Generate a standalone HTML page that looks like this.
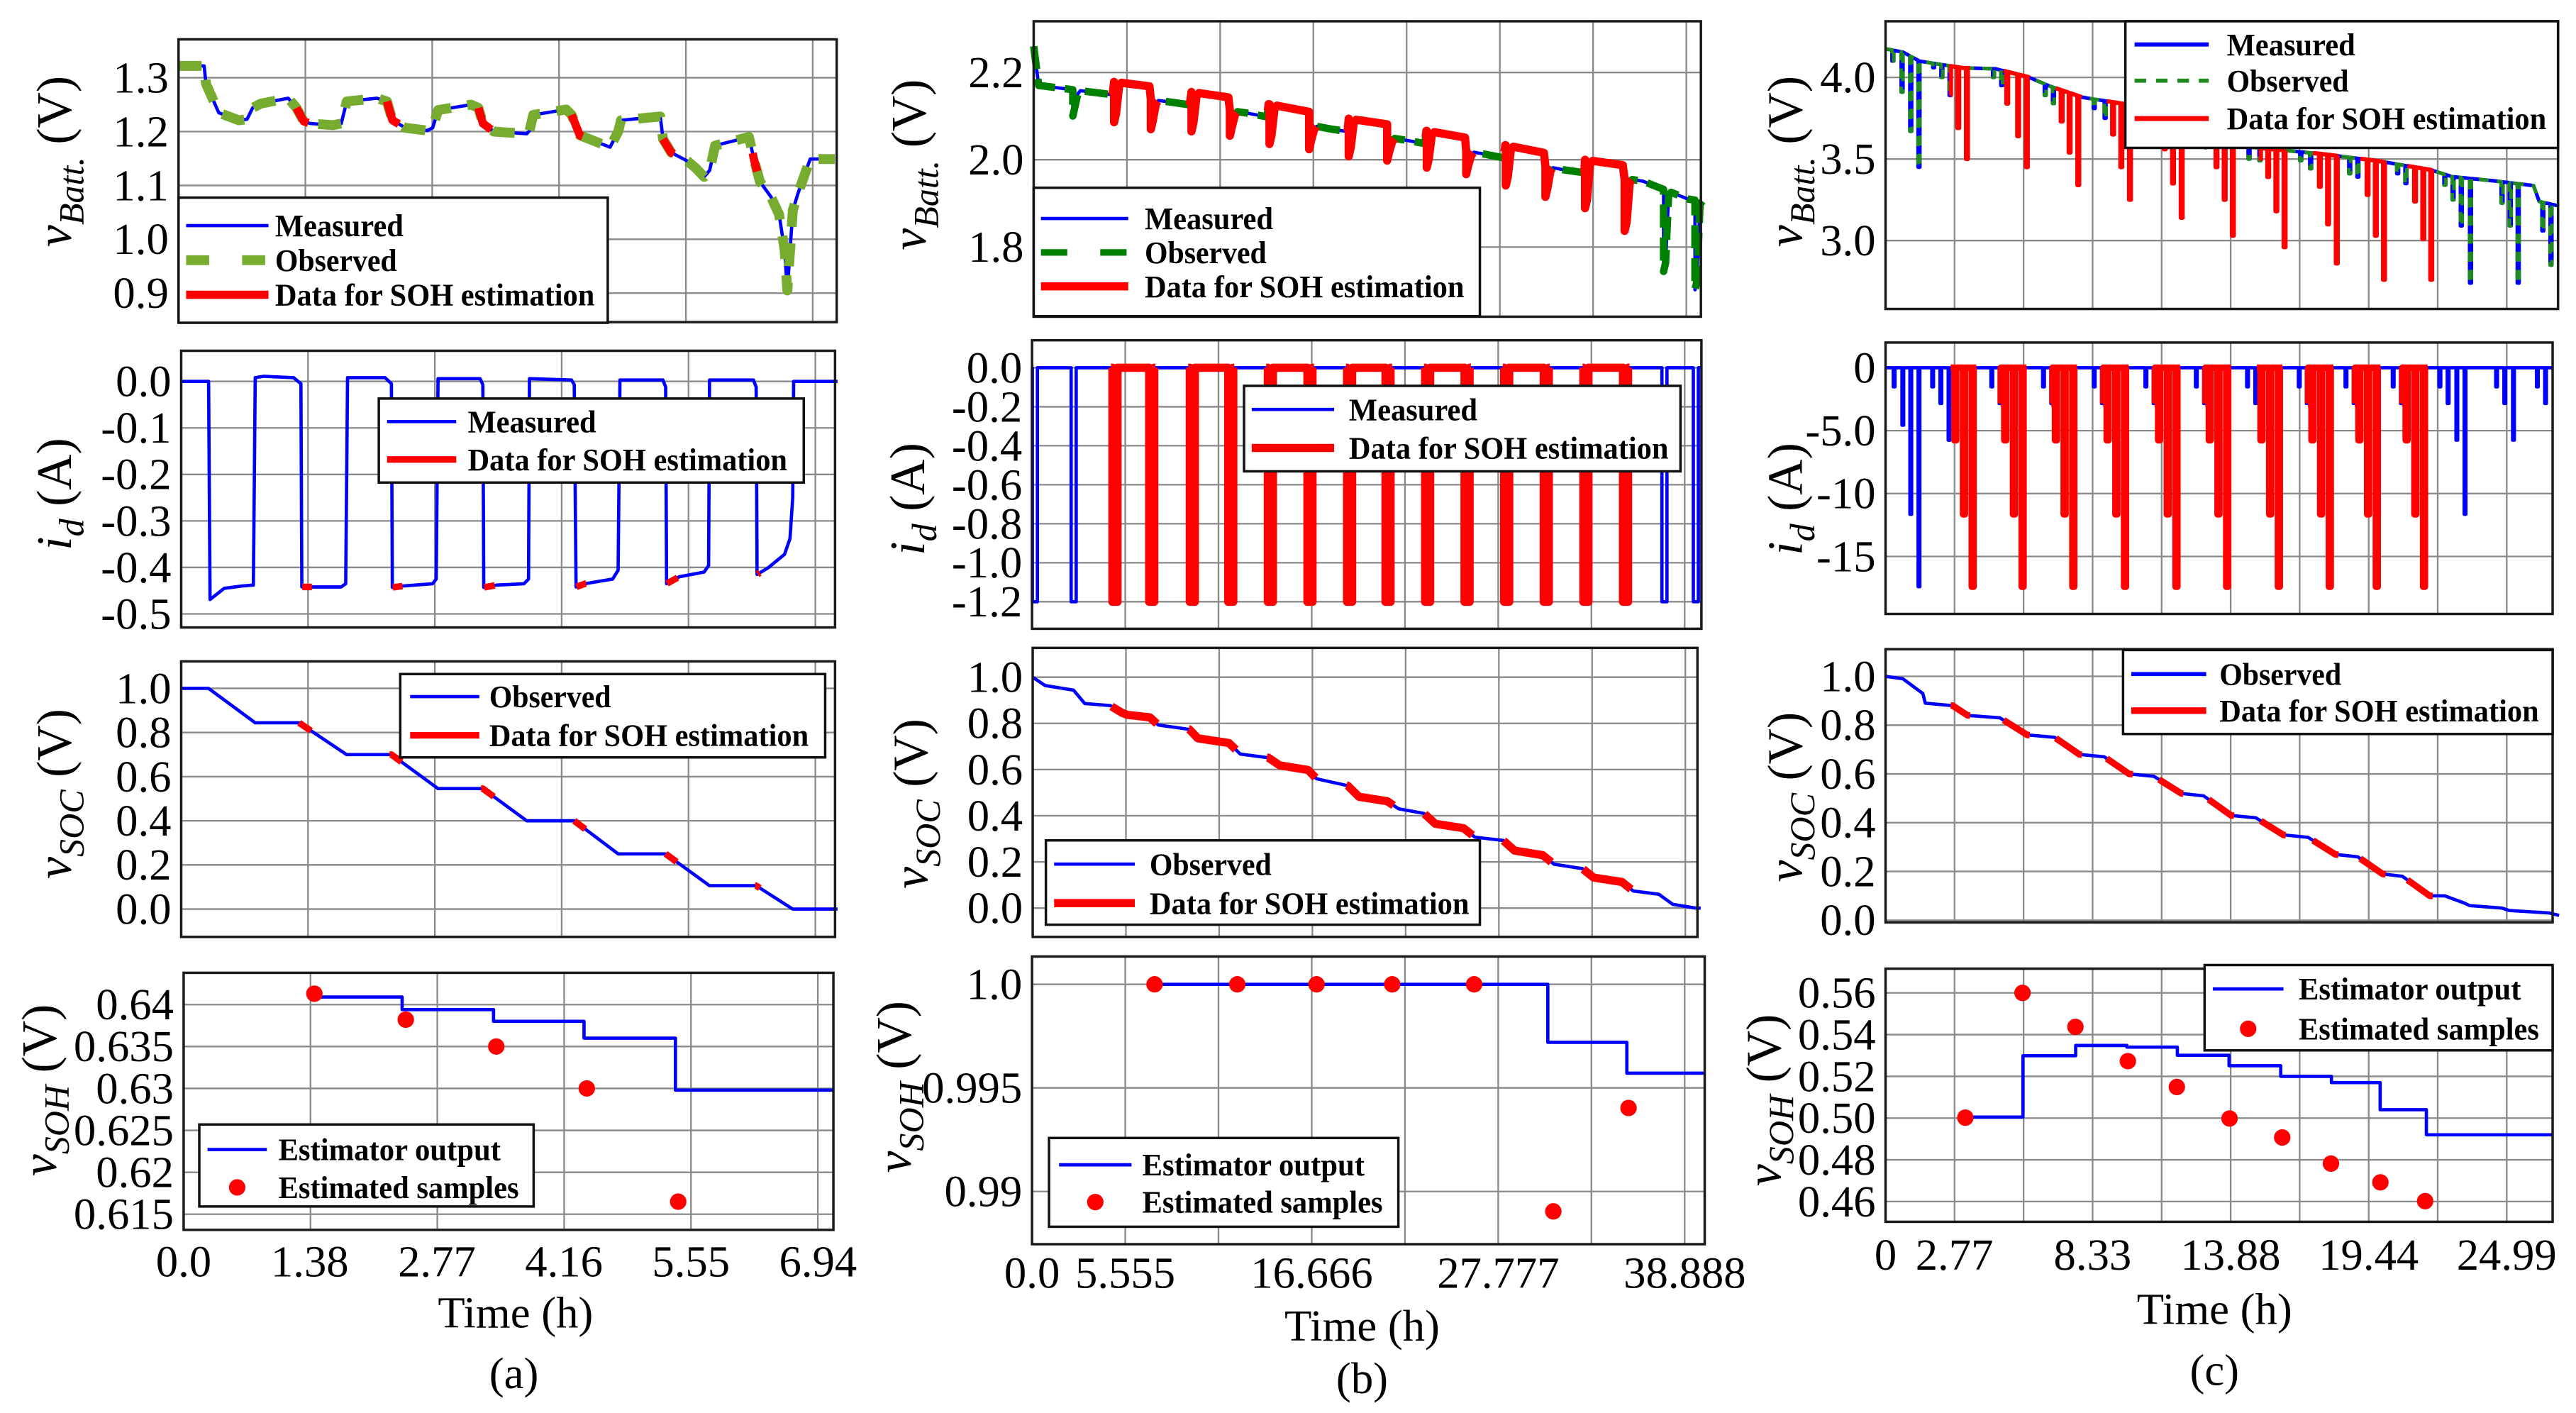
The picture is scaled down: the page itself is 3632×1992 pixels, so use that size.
<!DOCTYPE html>
<html><head><meta charset="utf-8"><style>
html,body{margin:0;padding:0;background:#fff;}
svg{display:block;}
text{font-family:"Liberation Serif","DejaVu Serif",serif;}
</style></head><body>
<svg id="fig" xmlns="http://www.w3.org/2000/svg" width="3632" height="1992" viewBox="0 0 1564 858" preserveAspectRatio="none">
<rect x="0" y="0" width="1564" height="858" fill="#fff"/>
</svg>
<script>
// ---------- Column (a) data ----------
const aVT=[0,0.28,0.30,0.44,0.66,0.75,0.81,0.90,1.20,1.29,1.37,1.44,1.69,1.78,1.84,2.17,2.28,2.34,2.48,2.72,2.78,2.84,3.20,3.28,3.33,3.45,3.81,3.84,3.88,4.24,4.30,4.39,4.72,4.81,4.84,5.27,5.30,5.39,5.57,5.66,5.75,5.81,5.87,6.24,6.30,6.36,6.48,6.57,6.63,6.66,6.69,6.72,6.78,6.91,7.18];
const aVV=[1.322,1.322,1.289,1.235,1.221,1.223,1.244,1.252,1.262,1.244,1.219,1.215,1.212,1.215,1.256,1.262,1.256,1.221,1.207,1.202,1.207,1.240,1.250,1.244,1.215,1.200,1.196,1.202,1.231,1.241,1.231,1.193,1.171,1.200,1.221,1.228,1.186,1.161,1.145,1.132,1.116,1.128,1.174,1.190,1.145,1.107,1.079,1.046,0.980,0.905,0.980,1.054,1.087,1.149,1.149];
const aIT=[0,0.30,0.316,0.47,0.66,0.79,0.81,0.90,1.23,1.31,1.32,1.44,1.75,1.80,1.82,2.23,2.30,2.31,2.42,2.75,2.79,2.81,3.27,3.30,3.31,3.45,3.75,3.80,3.81,4.27,4.30,4.32,4.42,4.72,4.78,4.80,5.27,5.30,5.31,5.45,5.72,5.77,5.78,6.26,6.29,6.30,6.42,6.60,6.66,6.69,6.70,7.18];
const aIV=[0,0,-0.469,-0.445,-0.440,-0.438,0.008,0.011,0.008,-0.005,-0.442,-0.442,-0.442,-0.435,0.008,0.008,-0.005,-0.443,-0.440,-0.435,-0.425,0.006,0.006,-0.007,-0.443,-0.438,-0.435,-0.425,0.006,0.003,-0.007,-0.442,-0.435,-0.425,-0.406,0.003,0.003,-0.012,-0.435,-0.420,-0.410,-0.396,0.003,0.003,-0.012,-0.415,-0.401,-0.372,-0.338,-0.25,0,0];
const aST=[0,0.30,0.81,1.29,1.81,2.30,2.81,3.30,3.78,4.30,4.78,5.30,5.78,6.29,6.69,7.18];
const aSV=[1.0,1.0,0.844,0.844,0.70,0.70,0.546,0.546,0.40,0.40,0.25,0.25,0.106,0.106,0.0,0.0];
const redA=[[1.29,1.42],[2.28,2.41],[3.28,3.42],[4.30,4.42],[5.30,5.42],[6.28,6.33]];
const redAI=[[1.325,1.43],[2.315,2.42],[3.315,3.43],[4.325,4.43],[5.315,5.43],[6.305,6.33]];
const aSohT=[1.42,2.39,3.39,4.38,5.38];
const aSohV=[0.6409,0.6394,0.6380,0.6360,0.6298];
const aDotT=[1.43,2.43,3.42,4.41,5.41];
const aDotV=[0.6413,0.6382,0.6350,0.6300,0.6165];
const aXTicks=[0,1.38,2.77,4.16,5.55,6.94];
const aXLabels=["0.0","1.38","2.77","4.16","5.55","6.94"];
// ---------- Column (b) data ----------
const bBaseT=[0,0.3,0.57,7.99,12.7,17.76,22.14,26.85,31.57,36.29,38.98,39.8];
const bBaseV=[2.26,2.17,2.169,2.133,2.107,2.07,2.045,2.013,1.977,1.951,1.91,1.905];
const bPulseT=[2.33,4.79,6.98,9.40,11.69,14.05,16.41,18.77,21.06,23.42,25.77,28.13,30.49,32.85,35.21,37.53,39.4];
const bDipV=[2.10,2.086,2.07,2.065,2.055,2.036,2.024,2.008,1.998,1.982,1.967,1.941,1.915,1.889,1.837,1.744,1.702];
const bRedRise=0.03;
const bCurT=[0.02,2.33,4.79,6.98,9.40,11.69,14.05,16.41,18.77,21.06,23.42,25.77,28.13,30.49,32.85,35.21,37.53,39.4];
const bCurLow=[-1.2,-1.2,-1.2,-1.2,-1.2,-1.2,-1.2,-1.2,-1.2,-1.2,-1.2,-1.2,-1.2,-1.2,-1.2,-1.2,-1.2,-1.2];
const redB=[[4.7,7.4],[9.3,12.1],[13.95,16.85],[18.7,21.5],[23.35,26.2],[28.05,30.9],[32.8,35.65]];
const bST=[0,0.74,2.43,3.10,4.62,5.29,5.63,6.98,7.48,9.33,9.84,11.69,12.37,14.05,14.72,16.41,16.91,18.77,19.44,21.12,21.8,23.31,23.99,25.67,26.35,28.03,28.71,30.39,31.06,32.75,33.42,35.11,35.78,37.3,38.14,39.49,39.8];
const bSV=[1.0,0.964,0.944,0.886,0.877,0.847,0.837,0.826,0.793,0.774,0.735,0.715,0.667,0.651,0.618,0.598,0.560,0.530,0.482,0.463,0.430,0.410,0.365,0.346,0.307,0.293,0.249,0.229,0.190,0.171,0.132,0.113,0.074,0.060,0.016,0.0,0.0];
const bSohT=[7.3,30.73,35.44];
const bSohV=[1.0,0.9972,0.99571];
const bDotT=[7.3,12.23,16.95,21.46,26.34,31.06,35.54];
const bDotV=[1.0,1.0,1.0,1.0,1.0,0.98904,0.99403];
const bXTicks=[0,5.555,16.666,27.777,38.888];
const bXLabels=["0.0","5.555","16.666","27.777","38.888"];
// ---------- Column (c) data ----------
const cBaseT=[0,0.70,1.36,3.1,4.42,5.73,6.6,7.92,9.67,10.98,13.17,14.7,17.54,19.73,21.92,22.79,24.54,26.07,26.3,27.1];
const cBaseV=[4.175,4.155,4.10,4.058,4.053,4.003,3.947,3.878,3.836,3.781,3.67,3.573,3.531,3.49,3.434,3.392,3.365,3.337,3.24,3.212];
const cSpikeT=[0.26,0.63,0.98,1.31,1.90,2.23,2.56,2.89,3.24,4.31,4.64,4.86,5.30,5.65,6.39,6.72,7.05,7.37,7.72,8.36,8.80,9.12,9.45,9.80,10.44,10.77,11.20,11.53,11.88,12.52,12.84,13.28,13.61,13.94,14.59,15.03,15.36,15.69,16.02,16.67,17.07,17.44,17.77,18.12,18.64,18.97,19.36,19.69,20.02,20.57,20.90,21.27,21.60,21.92,22.47,22.80,23.13,23.50,24.77,25.10,25.42,26.41,26.74];
const cSpikeV=[4.10,3.91,3.67,3.45,4.06,4.00,3.89,3.69,3.50,4.00,3.95,3.84,3.64,3.45,3.89,3.84,3.73,3.54,3.34,3.81,3.75,3.65,3.45,3.25,3.71,3.66,3.56,3.35,3.14,3.63,3.57,3.45,3.25,3.03,3.50,3.49,3.39,3.18,2.96,3.49,3.44,3.33,3.10,2.86,3.41,3.39,3.28,3.03,2.76,3.41,3.35,3.24,3.01,2.76,3.34,3.25,3.09,2.74,3.23,3.09,2.74,3.06,2.85];
const redC=[[2.62,3.4],[4.75,5.8],[6.85,7.9],[8.9,9.95],[11.0,11.98],[13.0,14.02],[15.1,16.1],[17.2,18.22],[19.1,20.12],[21.0,22.02]];
const cCurT=[0.31,0.66,0.98,1.31,1.86,2.19,2.52,4.24,4.57,6.32,6.65,8.36,8.69,10.44,10.77,12.47,12.80,14.53,14.86,16.61,16.93,18.49,18.82,20.39,20.72,22.27,22.6,22.95,23.28,24.55,24.88,25.23,26.19,26.52];
const cCurV=[-1.52,-4.57,-11.65,-17.4,-1.52,-2.84,-5.76,-1.52,-2.84,-1.52,-2.84,-1.52,-2.84,-1.52,-2.84,-1.52,-2.84,-1.52,-2.84,-1.52,-2.84,-1.52,-2.84,-1.52,-2.84,-1.52,-2.84,-5.76,-11.65,-1.52,-2.84,-5.76,-1.52,-2.84];
const cGroupT=[2.67,4.68,6.72,8.80,10.87,12.91,14.99,17.04,18.93,20.83];
const cGroupOff=[0.1,0.45,0.8];
const cGroupV=[-5.76,-11.65,-17.4];
const cST=[0,0.7,1.5,1.6,2.7,3.3,4.6,5.7,6.8,7.8,8.8,9.8,10.8,11.9,12.8,13.9,14.9,16.0,17.0,18.1,19.0,20.0,20.8,21.9,22.5,23.3,23.5,24.8,25.1,26.7,27.1];
const cSV=[1.0,0.99,0.93,0.89,0.88,0.84,0.83,0.76,0.75,0.68,0.67,0.60,0.59,0.52,0.51,0.43,0.42,0.35,0.34,0.27,0.26,0.19,0.18,0.10,0.10,0.07,0.06,0.05,0.04,0.03,0.02];
const cSohT=[3.21,5.53,7.65,9.71,11.74,13.82,15.9,17.94,19.9,21.76];
const cSohV=[0.5005,0.5299,0.5348,0.5340,0.5301,0.5251,0.5200,0.5170,0.5040,0.4920];
const cDotT=[3.21,5.51,7.64,9.75,11.72,13.84,15.96,17.92,19.91,21.71];
const cDotV=[0.5002,0.56,0.5437,0.5273,0.5149,0.4998,0.4907,0.4782,0.4692,0.4602];
const cXTicks=[0,2.77,8.33,13.88,19.44,24.99];
const cXLabels=["0","2.77","8.33","13.88","19.44","24.99"];

const NS='http://www.w3.org/2000/svg';
const svg=document.getElementById('fig');
function mk(tag,attrs,parent){const e=document.createElementNS(NS,tag);for(const k in attrs)e.setAttribute(k,attrs[k]);(parent||svg).appendChild(e);return e;}
function zip(T,V){return T.map((t,i)=>[t,V[i]]);}
function interp(T,V,t){if(t<=T[0])return V[0];for(let i=1;i<T.length;i++){if(t<=T[i]){const f=(t-T[i-1])/(T[i]-T[i-1]||1);return V[i-1]+f*(V[i]-V[i-1]);}}return V[V.length-1];}
function clip(pts,t0,t1){const out=[];for(let i=0;i<pts.length;i++){const p=pts[i];if(p[0]>=t0&&p[0]<=t1){if(out.length===0&&i>0&&pts[i-1][0]<t0){const a=pts[i-1],f=(t0-a[0])/(p[0]-a[0]);out.push([t0,a[1]+f*(p[1]-a[1])]);}out.push(p);}else if(p[0]>t1){if(i>0&&pts[i-1][0]<t1){const a=pts[i-1],f=(t1-a[0])/(p[0]-a[0]);if(out.length===0&&a[0]<t0){const g=(t0-a[0])/(p[0]-a[0]);out.push([t0,a[1]+g*(p[1]-a[1])]);}out.push([t1,a[1]+f*(p[1]-a[1])]);}break;}}return out;}
function panel(name,fx0,fx1,fy0,fy1,pxu,v1,p1,v2,p2){const k=(p2-p1)/(v2-v1);return {name,fx0,fx1,fy0,fy1,X:t=>fx0+t*pxu,Y:v=>p1+(v-v1)*k,xmax:(fx1-fx0)/pxu};}
function pathD(P,pts){return 'M'+pts.map(p=>P.X(p[0]).toFixed(2)+','+P.Y(p[1]).toFixed(2)).join('L');}
function gridAndFrame(P,step,yT,yL,g){
  const gg=mk('g',{},g);
  
  
  for(let k=1;k*step<=P.xmax;k++){const x=P.X(k*step);const l=mk('line',{x1:x,x2:x,y1:P.fy0,y2:P.fy1,stroke:'#8a8a8a','stroke-width':1},gg);
    
    }
  yT.forEach((v,i)=>{const y=P.Y(v);const l=mk('line',{x1:P.fx0,x2:P.fx1,y1:y,y2:y,stroke:'#8a8a8a','stroke-width':1},gg);
    
    
    const t=mk('text',{x:P.fx0-6,y:y+9,'font-size':27,'text-anchor':'end',fill:'#000'},g);t.textContent=yL[i];
    
    });
}
function frame(P,g){const r=mk('rect',{x:P.fx0,y:P.fy0,width:P.fx1-P.fx0,height:P.fy1-P.fy0,fill:'none',stroke:'#1a1a1a','stroke-width':1.5},g);
  
  }
function line(P,pts,color,w,dash,nm,g){const p=mk('path',{d:pathD(P,pts),fill:'none',stroke:color,'stroke-width':w,'stroke-linejoin':'round'},g);if(dash)p.setAttribute('stroke-dasharray',dash);
  
  return p;}
function redParts(P,pts,ints,w,g){ints.forEach(iv=>{const s=clip(pts,iv[0],iv[1]);if(s.length>1)line(P,s,'#ff0000',w,null,P.name+'-soh-data-segment',g);});}
function dots(P,T,V,g){T.forEach((t,i)=>{const c=mk('circle',{cx:P.X(t),cy:P.Y(V[i]),r:5,fill:'#ff0000'},g);
  
  });}
function stepPts(T,V,xmax){const o=[];for(let i=0;i<T.length;i++){o.push([T[i],V[i]]);o.push([i+1<T.length?T[i+1]:xmax,V[i]]);}return o;}
function ylabel(x,y,main,sub,unit,fs,nm,g){const t=mk('text',{transform:`translate(${x},${y}) rotate(-90)`,'text-anchor':'middle','font-size':fs},g);
  
  
  const a=mk('tspan',{'font-style':'italic'},t);a.textContent=main;
  const b=mk('tspan',{'font-style':'italic','font-size':fs*0.72,dy:fs*0.25},t);b.textContent=sub;
  const c=mk('tspan',{dy:-fs*0.25},t);c.textContent=' '+unit;}
const LW={"Measured":78,"Observed":74,"Data for SOH estimation":194,"Estimator output":135,"Estimated samples":146};
function legend(nm,x0,x1,y0,y1,sx0,sx1,tx,rows,g){const lg=mk('g',{},g);
  
  
  const r=mk('rect',{x:x0,y:y0,width:x1-x0,height:y1-y0,fill:'#fff',stroke:'#111','stroke-width':1.5},lg);
  
  
  rows.forEach(rw=>{const [label,y,kind,color,w,dash]=rw;
    if(kind==='dot'){const c=mk('circle',{cx:(sx0+sx1)/2,cy:y,r:5,fill:color},lg);
      
      }
    else{const l=mk('line',{x1:sx0,x2:sx1,y1:y,y2:y,stroke:color,'stroke-width':w},lg);if(dash)l.setAttribute('stroke-dasharray',dash);
      
      }
    const t=mk('text',{x:tx,y:y+6.5,'font-size':19,'font-weight':'bold',textLength:LW[label],lengthAdjust:'spacingAndGlyphs'},lg);t.textContent=label;
    
    });}
function xticks(P,T,L,y,g){T.forEach((v,i)=>{const t=mk('text',{x:P.X(v),y:y,'font-size':27,'text-anchor':'middle'},g);t.textContent=L[i];
  
  });}
function caption(x,y,txt,nm,g){const t=mk('text',{x:x,y:y,'font-size':27,'text-anchor':'middle'},g);t.textContent=txt;
  
  }
function grp(nm){const g=mk('g',{});
  
  return g;}

// ================= Column (a) =================
(function(){
const g=grp('column-a');
const pxu=55.5;
const A1=panel('a-voltage',108.4,508,23.9,195.6,pxu,1.3,47.2,0.9,178);
const A2=panel('a-current',110,507,213,381,pxu,0,231.6,-0.5,372.8);
const A3=panel('a-soc',110,507,401.6,568.9,pxu,1,418,0,552);
const A4=panel('a-soh',111.5,506,590.7,746.8,pxu,0.64,610,0.615,737.3);
gridAndFrame(A1,1.3875,[1.3,1.2,1.1,1.0,0.9],["1.3","1.2","1.1","1.0","0.9"],g);
const v=zip(aVT,aVV);
line(A1,v,'#0000ff',2,null,'a-measured-voltage',g);
line(A1,v,'#77ac30',6,'14 10','a-observed-voltage',g);
redParts(A1,v,redA,5,g);frame(A1,g);
legend('a-voltage-legend',108.4,369,120,196,113,163,167,[["Measured",137,'l','#0000ff',2],["Observed",158,'l','#77ac30',6,'14 20'],["Data for SOH estimation",179,'l','#ff0000',5]],g);
ylabel(43,98,'v','Batt.','(V)',30,'a-voltage-y-axis-title',g);

gridAndFrame(A2,1.3875,[0,-0.1,-0.2,-0.3,-0.4,-0.5],["0.0","-0.1","-0.2","-0.3","-0.4","-0.5"],g);
const c=zip(aIT,aIV);
line(A2,c,'#0000ff',2,null,'a-measured-current',g);
redParts(A2,c,redAI,4,g);frame(A2,g);
legend('a-current-legend',230,488,242,293,235,277,284,[["Measured",256,'l','#0000ff',2],["Data for SOH estimation",279,'l','#ff0000',4]],g);
ylabel(43,300,'i','d','(A)',30,'a-current-y-axis-title',g);

gridAndFrame(A3,1.3875,[1,0.8,0.6,0.4,0.2,0],["1.0","0.8","0.6","0.4","0.2","0.0"],g);
const s=zip(aST,aSV);
line(A3,s,'#0000ff',2,null,'a-observed-soc',g);
redParts(A3,s,redA,4,g);frame(A3,g);
legend('a-soc-legend',243,501,409.3,459.9,249,291,297,[["Observed",423,'l','#0000ff',2],["Data for SOH estimation",446.5,'l','#ff0000',4]],g);
ylabel(43,482,'v','SOC','(V)',30,'a-soc-y-axis-title',g);

gridAndFrame(A4,1.3875,[0.64,0.635,0.63,0.625,0.62,0.615],["0.64","0.635","0.63","0.625","0.62","0.615"],g);
line(A4,stepPts(aSohT,aSohV,A4.xmax),'#0000ff',2,null,'a-estimator-output',g);
dots(A4,aDotT,aDotV,g);frame(A4,g);
legend('a-soh-legend',121,324,682.8,732.6,126,162,169,[["Estimator output",698,'l','#0000ff',2],["Estimated samples",721,'dot','#ff0000']],g);
ylabel(34,662,'v','SOH','(V)',30,'a-soh-y-axis-title',g);
xticks(A4,aXTicks,aXLabels,775,g);
caption(313,806,'Time (h)','a-x-axis-title',g);
caption(312,843,'(a)','a-panel-caption',g);
})();

// ================= Column (b) =================
(function(){
const g=grp('column-b');
const pxu=10.19,W=0.3;
const B1=panel('b-voltage',627.6,1032.7,12.9,192.3,pxu,2.2,44,1.8,150);
const B2=panel('b-current',626.6,1033,206.6,381.8,pxu,0,223.3,-1.2,365.4);
const B3=panel('b-soc',627,1030.6,393.4,568.9,pxu,1,411.2,0,551.4);
const B4=panel('b-soh',626.6,1035,580.8,755.5,pxu,1.0,597.7,0.99,723.5);
gridAndFrame(B1,5.555,[2.2,2.0,1.8],["2.2","2.0","1.8"],g);
function inRed(t){return redB.some(iv=>t>iv[0]&&t<iv[1]-0.45);}
function lvl(t){return interp(bBaseT,bBaseV,t)+(inRed(t)?bRedRise:0);}
const grid=[];for(let t=0;t<=39.8;t+=0.1)grid.push(+t.toFixed(2));
const v=[];let last=-1;
bPulseT.forEach((p,i)=>{grid.forEach(t=>{if(t>last&&t<p)v.push([t,lvl(t)]);});
  v.push([p,lvl(p-0.01)]);v.push([p,bDipV[i]]);v.push([p+0.12,bDipV[i]+0.02]);v.push([p+0.3,lvl(p+0.3)-0.008]);v.push([p+0.45,lvl(p+0.45)]);last=p+0.45;});
grid.forEach(t=>{if(t>last)v.push([t,lvl(t)]);});
line(B1,v,'#0000ff',2,null,'b-measured-voltage',g);
line(B1,v,'#008000',4.5,'14 6','b-observed-voltage',g);
redParts(B1,v,redB,5,g);frame(B1,g);
legend('b-voltage-legend',627.6,898.5,114,192,632,685,695,[["Measured",132.7,'l','#0000ff',2],["Observed",153.3,'l','#008000',4,'16 20'],["Data for SOH estimation",173.9,'l','#ff0000',5]],g);
ylabel(562,100,'v','Batt.','(V)',30,'b-voltage-y-axis-title',g);

gridAndFrame(B2,5.555,[0,-0.2,-0.4,-0.6,-0.8,-1.0,-1.2],["0.0","-0.2","-0.4","-0.6","-0.8","-1.0","-1.2"],g);
const c=[[0,0]];bCurT.forEach((p,i)=>{c.push([p,0]);c.push([p,bCurLow[i]]);c.push([p+W,bCurLow[i]]);c.push([p+W,0]);});c.push([B2.xmax,0]);
line(B2,c,'#0000ff',2,null,'b-measured-current',g);
redParts(B2,c,redB.map(iv=>[iv[0],iv[1]-0.05]),5,g);frame(B2,g);
legend('b-current-legend',755.3,1020.3,234.3,286.2,760,810,819,[["Measured",248.6,'l','#0000ff',2],["Data for SOH estimation",272,'l','#ff0000',5]],g);
ylabel(561,303,'i','d','(A)',30,'b-current-y-axis-title',g);

gridAndFrame(B3,5.555,[1,0.8,0.6,0.4,0.2,0],["1.0","0.8","0.6","0.4","0.2","0.0"],g);
const s=zip(bST,bSV);
line(B3,s,'#0000ff',2,null,'b-observed-soc',g);
redParts(B3,s,redB,5,g);frame(B3,g);
legend('b-soc-legend',635,898.5,510.3,561.5,640,689,698,[["Observed",524.7,'l','#0000ff',2],["Data for SOH estimation",548.4,'l','#ff0000',5]],g);
ylabel(563,488,'v','SOC','(V)',30,'b-soc-y-axis-title',g);

gridAndFrame(B4,5.555,[1.0,0.995,0.99],["1.0","0.995","0.99"],g);
line(B4,stepPts(bSohT,bSohV,B4.xmax),'#0000ff',2,null,'b-estimator-output',g);
dots(B4,bDotT,bDotV,g);frame(B4,g);
legend('b-soh-legend',636.9,849,691,744.9,643,687,693.5,[["Estimator output",707.3,'l','#0000ff',2],["Estimated samples",729.9,'dot','#ff0000']],g);
ylabel(553,660,'v','SOH','(V)',30,'b-soh-y-axis-title',g);
xticks(B4,bXTicks,bXLabels,782,g);
caption(827,814,'Time (h)','b-x-axis-title',g);
caption(827,846,'(b)','b-panel-caption',g);
})();

// ================= Column (c) =================
(function(){
const g=grp('column-c');
const pxu=15.09,SW=0.07;
const C1=panel('c-voltage',1144.8,1553.1,12.9,187.6,pxu,4,47,3,146.1);
const C2=panel('c-current',1144.8,1549.8,208,372.8,pxu,0,223.3,-15,337.9);
const C3=panel('c-soc',1144.8,1549.8,394.2,560.1,pxu,1,410.7,0,558.8);
const C4=panel('c-soh',1144.8,1549.8,588.2,741.9,pxu,0.56,602.9,0.46,729.6);
gridAndFrame(C1,2.777,[4.0,3.5,3.0],["4.0","3.5","3.0"],g);
const v=[];let last=-1;
cSpikeT.forEach((p,i)=>{cBaseT.forEach(t=>{if(t>last&&t<p)v.push([t,interp(cBaseT,cBaseV,t)]);});
  const b=interp(cBaseT,cBaseV,p);v.push([p,b]);v.push([p,cSpikeV[i]]);v.push([p+SW,cSpikeV[i]]);v.push([p+SW,interp(cBaseT,cBaseV,p+SW)]);last=p+SW;});
cBaseT.forEach(t=>{if(t>last)v.push([t,interp(cBaseT,cBaseV,t)]);});
line(C1,v,'#0000ff',2.2,null,'c-measured-voltage',g);
line(C1,v,'#1f8a1f',2.2,'6 5','c-observed-voltage',g);
redParts(C1,v,redC,2.6,g);frame(C1,g);
legend('c-voltage-legend',1290.4,1553.1,12.9,89.8,1296,1341,1352,[["Measured",27,'l','#0000ff',2.5],["Observed",49,'l','#1f8a1f',2.5,'7 6'],["Data for SOH estimation",72,'l','#ff0000',3]],g);
ylabel(1094,98,'v','Batt.','(V)',30,'c-voltage-y-axis-title',g);

gridAndFrame(C2,2.777,[0,-5,-10,-15],["0","-5.0","-10","-15"],g);
const c=[[0,0]];const pulses=[];
cCurT.forEach((t,i)=>pulses.push([t,cCurV[i]]));
cGroupT.forEach(s=>cGroupOff.forEach((o,j)=>pulses.push([s+o,cGroupV[j]])));
pulses.sort((a,b)=>a[0]-b[0]);
pulses.forEach(p=>{c.push([p[0],0]);c.push([p[0],p[1]]);c.push([p[0]+SW,p[1]]);c.push([p[0]+SW,0]);});c.push([C2.xmax,0]);
line(C2,c,'#0000ff',2,null,'c-measured-current',g);
redParts(C2,c,cGroupT.map(s=>[s-0.05,s+0.98]),4,g);frame(C2,g);
ylabel(1094,303,'i','d','(A)',30,'c-current-y-axis-title',g);

gridAndFrame(C3,2.777,[1,0.8,0.6,0.4,0.2,0],["1.0","0.8","0.6","0.4","0.2","0.0"],g);
const s=zip(cST,cSV);
line(C3,s,'#0000ff',2,null,'c-observed-soc',g);
redParts(C3,s,redC,4,g);frame(C3,g);
legend('c-soc-legend',1289,1549.8,394.7,445.7,1294,1339.5,1347.5,[["Observed",409.3,'l','#0000ff',2.5],["Data for SOH estimation",431.5,'l','#ff0000',4]],g);
ylabel(1094,484,'v','SOC','(V)',30,'c-soc-y-axis-title',g);

gridAndFrame(C4,2.777,[0.56,0.54,0.52,0.50,0.48,0.46],["0.56","0.54","0.52","0.50","0.48","0.46"],g);
line(C4,stepPts(cSohT,cSohV,C4.xmax),'#0000ff',2,null,'c-estimator-output',g);
dots(C4,cDotT,cDotV,g);frame(C4,g);
legend('c-soh-legend',1338.5,1549.8,586,637.8,1343.5,1386.4,1395.6,[["Estimator output",600.5,'l','#0000ff',2],["Estimated samples",624.7,'dot','#ff0000']],g);
ylabel(1081,668,'v','SOH','(V)',30,'c-soh-y-axis-title',g);
xticks(C4,cXTicks,cXLabels,771,g);
caption(1344.5,804,'Time (h)','c-x-axis-title',g);
caption(1344.5,841,'(c)','c-panel-caption',g);
})();
</script>
</body></html>
